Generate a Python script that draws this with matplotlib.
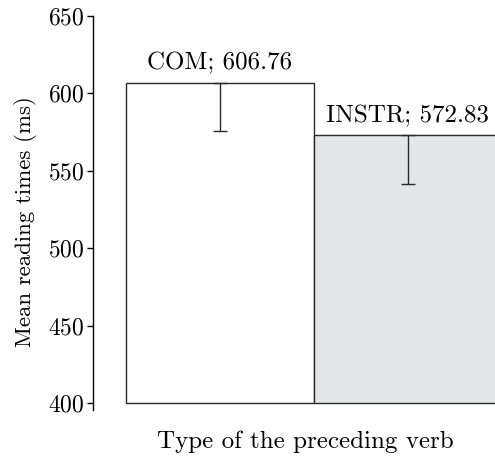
"""Mean reading times by type of the preceding verb."""
import matplotlib.pyplot as plt
import numpy as np

plt.rcParams['font.family'] = 'serif'
plt.rcParams['font.serif'] = ['cmr10', 'DejaVu Serif']
plt.rcParams['mathtext.fontset'] = 'cm'
plt.rcParams['axes.formatter.use_mathtext'] = True

categories = ['COM', 'INSTR']
means = [606.76, 572.83]
lower_err = [31.0, 31.7]
bar_colors = ['white', '#e4e5e7']
base = 400

x = np.arange(len(categories))

fig = plt.figure(figsize=(4.95, 4.57), dpi=100)
ax = fig.add_axes([0.188, 0.1028, 0.812, 0.863])

heights = [m - base for m in means]
ax.bar(x, heights, width=1.0, bottom=base, color=bar_colors,
       edgecolor='#2a2a2a', linewidth=1.0)
ax.errorbar(x, means, yerr=[lower_err, [0, 0]], fmt='none',
            ecolor='#2a2a2a', elinewidth=1.0, capsize=4.7, capthick=1.0)

for xi, cat, m in zip(x, categories, means):
    ax.annotate(f'{cat}; {m:.2f}', xy=(xi, m), xytext=(0, 9.5),
                textcoords='offset points', ha='center', va='baseline',
                fontsize=18)

ax.set_xlim(-0.6755, 1.463)
ax.set_ylim(395.5, 650)
ax.set_yticks([400, 450, 500, 550, 600, 650])
ax.set_xticks([])
ax.tick_params(axis='y', labelsize=17, length=4.5, width=1.0,
               direction='out', pad=2)
ax.set_ylabel('Mean reading times (ms)', fontsize=16.5)
ax.set_xlabel('Type of the preceding verb', fontsize=18)
ax.yaxis.set_label_coords(-0.139, 0.477)
ax.xaxis.set_label_coords(0.527, -0.053)

for side in ('top', 'right', 'bottom'):
    ax.spines[side].set_visible(False)
ax.spines['left'].set_linewidth(1.0)

fig.savefig('out.png', dpi=100)
